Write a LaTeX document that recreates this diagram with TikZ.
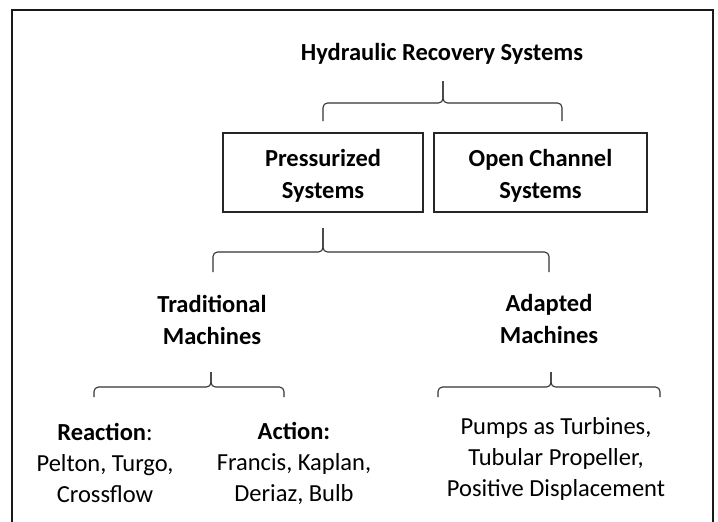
\documentclass[tikz,border=0pt]{standalone}
\usepackage{fontspec}
\setmainfont{Carlito}
\newcommand\hbr[6]{% left, right, tip x, top y, horizontal y, bottom y
  \draw[brc] (#1,#6) -- (#1,#5) -- (#3,#5) -- (#3,#4);
  \draw[brc] (#2,#6) -- (#2,#5) -- (#3,#5) -- (#3,#4);
}
\begin{document}
\begin{tikzpicture}[x=1pt,y=-1pt,
  lbl/.style={align=center, font=\fontsize{24.5}{31}\selectfont, inner sep=0pt, text=black},
  hd/.style={align=center, font=\fontsize{24.5}{31.5}\selectfont\bfseries, inner sep=0pt, text=black},
  boxn/.style={draw=black!85, line width=1.2pt, minimum height=79pt, inner sep=0pt},
  brc/.style={draw=black!80, line width=1.1pt, rounded corners=4.5pt, line join=round}
]
\useasboundingbox (0,0) rectangle (718,522);
\clip (0,0) rectangle (718,522);
\fill[white] (0,0) rectangle (718,522);
\draw[line width=1.6pt, black!90] (12,540) -- (12,10) -- (713,10) -- (713,540);

\node[hd] (title) at (442,54) {Hydraulic Recovery Systems};
\node[boxn, minimum width=200pt] (pres) at (323,172.5) {};
\node[boxn, minimum width=213pt] (open) at (540.5,172.5) {};
\node[hd, yshift=-3.5pt] (prest) at (pres.center) {Pressurized\\Systems};
\node[hd, yshift=-3.5pt] (opent) at (open.center) {Open Channel\\Systems};
\node[hd] (trad) at (212,320) {Traditional\\Machines};
\node[hd] (adap) at (549,319) {Adapted\\Machines};
\node[lbl] (react) at (105,463) {\textbf{Reaction}:\\Pelton, Turgo,\\Crossflow};
\node[lbl] (act) at (294,463) {\textbf{Action:}\\Francis, Kaplan,\\Deriaz, Bulb};
\node[lbl] (pump) at (556,459) {Pumps as Turbines,\\Tubular Propeller,\\Positive Displacement};

\hbr{323}{562}{443}{81}{103}{121}
\hbr{213}{549}{323}{228}{252}{272}
\hbr{94}{284}{211}{372}{387}{397}
\hbr{438}{660}{551}{372}{387}{397}
\end{tikzpicture}
\end{document}
